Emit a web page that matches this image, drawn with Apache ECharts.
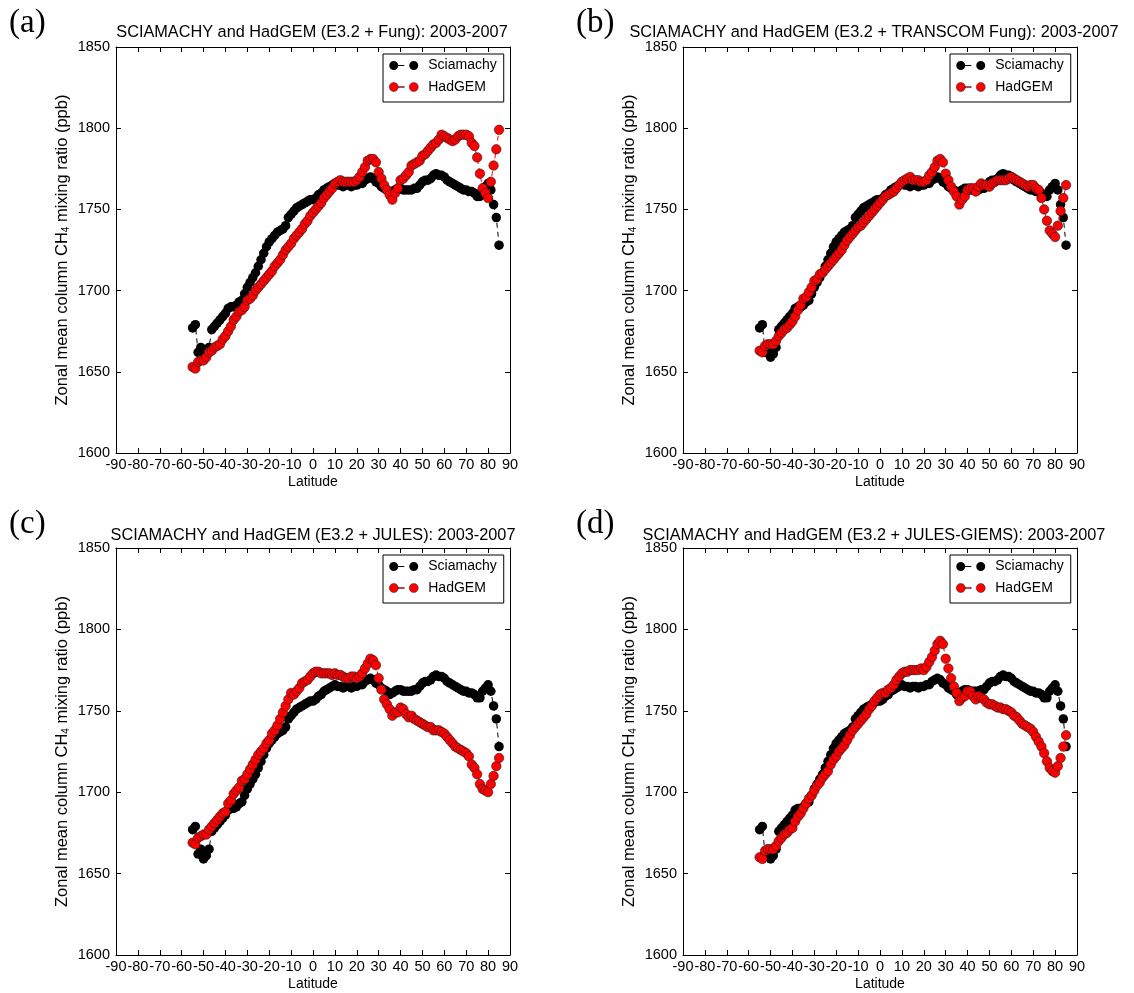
<!DOCTYPE html>
<html>
<head>
<meta charset="utf-8">
<title>Zonal mean column CH4: SCIAMACHY vs HadGEM</title>
<script src="https://cdn.jsdelivr.net/npm/echarts@6/dist/echarts.min.js"></script>
<style>
  html, body { margin: 0; padding: 0; background: #fff; }
  #chart { width: 1134px; height: 993px; }
</style>
</head>
<body>
<div id="chart"></div>
<script>
// Model grid latitudes (degrees)
const latitudes = [
  -55, -53.75, -52.5, -51.25, -50, -48.75, -47.5, -46.25, -45, -43.75,
  -42.5, -41.25, -40, -38.75, -37.5, -36.25, -35, -33.75, -32.5, -31.25,
  -30, -28.75, -27.5, -26.25, -25, -23.75, -22.5, -21.25, -20, -18.75,
  -17.5, -16.25, -15, -13.75, -12.5, -11.25, -10, -8.75, -7.5, -6.25,
  -5, -3.75, -2.5, -1.25, 0, 1.25, 2.5, 3.75, 5, 6.25,
  7.5, 8.75, 10, 11.25, 12.5, 13.75, 15, 16.25, 17.5, 18.75,
  20, 21.25, 22.5, 23.75, 25, 26.25, 27.5, 28.75, 30, 31.25,
  32.5, 33.75, 35, 36.25, 37.5, 38.75, 40, 41.25, 42.5, 43.75,
  45, 46.25, 47.5, 48.75, 50, 51.25, 52.5, 53.75, 55, 56.25,
  57.5, 58.75, 60, 61.25, 62.5, 63.75, 65, 66.25, 67.5, 68.75,
  70, 71.25, 72.5, 73.75, 75, 76.25, 77.5, 78.75, 80, 81.25,
  82.5, 83.75, 85
];

// SCIAMACHY zonal mean column CH4 (ppb), 2003-2007
const sciamachy = [
  1677, 1679, 1662, 1665, 1659, 1661, 1665, 1676, 1678, 1680,
  1682, 1684, 1686, 1689, 1690, 1690, 1691, 1693, 1694, 1698,
  1702, 1705, 1708, 1711, 1715, 1719, 1723, 1727, 1730, 1732,
  1734, 1736, 1737, 1738, 1740, 1745, 1747, 1749, 1751, 1752,
  1753, 1754, 1755, 1756, 1756, 1757, 1759, 1760, 1762, 1763,
  1764, 1765, 1766, 1765, 1765, 1764, 1765, 1765, 1764, 1765,
  1765, 1766, 1766, 1768, 1769, 1770, 1769, 1767, 1766, 1764,
  1763, 1762, 1760, 1761, 1762, 1763, 1763, 1762, 1762, 1762,
  1762, 1763, 1763, 1765, 1767, 1768, 1768, 1769, 1771, 1772,
  1771, 1771, 1770, 1768, 1767, 1766, 1765, 1764, 1763, 1762,
  1762, 1761, 1761, 1760, 1758, 1758, 1762, 1764, 1766, 1762,
  1753, 1745, 1728
];

// HadGEM, E3.2 + Fung wetlands
const hadgemFung = [
  1653, 1652, 1656, 1657, 1657, 1659, 1662, 1663, 1665, 1666,
  1667, 1670, 1672, 1675, 1678, 1682, 1684, 1687, 1688, 1690,
  1694, 1695, 1697, 1700, 1702, 1704, 1706, 1708, 1710, 1712,
  1715, 1717, 1719, 1722, 1725, 1727, 1729, 1732, 1734, 1736,
  1738, 1741, 1743, 1746, 1748, 1750, 1752, 1754, 1757, 1759,
  1761, 1763, 1766, 1767, 1768, 1767, 1767, 1767, 1767, 1767,
  1768, 1770, 1773, 1776, 1780, 1781, 1781, 1779, 1773, 1769,
  1765, 1762, 1759, 1756, 1760, 1763, 1768, 1769, 1771, 1773,
  1777, 1778, 1779, 1780, 1783, 1784, 1786, 1788, 1790, 1791,
  1793, 1796, 1795, 1794, 1793, 1792, 1793, 1795, 1796, 1796,
  1796, 1795, 1791, 1789, 1782, 1772, 1763, 1760, 1757, 1767,
  1777, 1787, 1799
];

// HadGEM, E3.2 + TRANSCOM Fung wetlands
const hadgemTranscom = [
  1663, 1662, 1666, 1667, 1667, 1667, 1669, 1672, 1674, 1676,
  1677, 1679, 1681, 1684, 1688, 1691, 1695, 1696, 1699, 1702,
  1706, 1707, 1710, 1711, 1713, 1715, 1717, 1719, 1721, 1723,
  1725, 1728, 1731, 1733, 1735, 1737, 1739, 1740, 1742, 1744,
  1746, 1748, 1750, 1752, 1754, 1756, 1758, 1759, 1760, 1761,
  1763, 1765, 1767, 1768, 1769, 1770, 1768, 1768, 1768, 1767,
  1767, 1768, 1771, 1773, 1776, 1780, 1781, 1779, 1772, 1768,
  1764, 1761, 1758, 1753, 1756, 1758, 1762, 1763, 1763, 1761,
  1764, 1766, 1765, 1765, 1764, 1766, 1767, 1768, 1768, 1768,
  1768, 1769, 1770, 1769, 1768, 1767, 1766, 1765, 1764, 1765,
  1765, 1763, 1762, 1757, 1750, 1743, 1737, 1735, 1733, 1740,
  1749, 1757, 1765
];

// HadGEM, E3.2 + JULES wetlands
const hadgemJules = [
  1669, 1668, 1672, 1673, 1674, 1674, 1677, 1679, 1681, 1683,
  1685, 1687, 1688, 1693, 1695, 1699, 1701, 1703, 1707, 1708,
  1711, 1714, 1717, 1720, 1723, 1725, 1727, 1730, 1732, 1736,
  1738, 1741, 1745, 1749, 1753, 1757, 1761, 1760, 1762, 1764,
  1767, 1768, 1769, 1771, 1773, 1774, 1774, 1773, 1773, 1773,
  1773, 1772, 1773, 1772, 1772, 1771, 1770, 1770, 1771, 1771,
  1770, 1771, 1773, 1776, 1779, 1782, 1781, 1778, 1770, 1763,
  1757, 1754, 1751, 1747, 1749, 1749, 1752, 1751, 1748, 1746,
  1747, 1745, 1744, 1743, 1742, 1741, 1740, 1740, 1738, 1738,
  1738, 1737, 1736, 1734, 1732, 1730, 1728, 1727, 1726, 1725,
  1724, 1722, 1717, 1715, 1711, 1705, 1702, 1701, 1700, 1705,
  1710, 1716, 1721
];

// HadGEM, E3.2 + JULES-GIEMS wetlands
const hadgemGiems = [
  1660, 1659, 1664, 1665, 1665, 1665, 1667, 1670, 1672, 1674,
  1675, 1677, 1678, 1682, 1685, 1687, 1690, 1693, 1696, 1698,
  1701, 1704, 1706, 1709, 1711, 1713, 1717, 1720, 1722, 1725,
  1727, 1729, 1732, 1735, 1738, 1740, 1742, 1744, 1746, 1748,
  1751, 1753, 1756, 1758, 1760, 1761, 1761, 1763, 1764, 1766,
  1769, 1771, 1773, 1774, 1774, 1775, 1775, 1775, 1775, 1776,
  1775, 1777, 1780, 1783, 1787, 1791, 1793, 1791, 1782, 1776,
  1770, 1765, 1761, 1756, 1758, 1759, 1762, 1762, 1759, 1757,
  1759, 1758, 1757, 1755, 1754, 1754, 1753, 1752, 1752, 1751,
  1751, 1750, 1749, 1747, 1746, 1744, 1742, 1741, 1740, 1739,
  1737, 1734, 1731, 1728, 1724, 1719, 1715, 1713, 1712, 1716,
  1721, 1728, 1735
];

const panelTitles = [
  'SCIAMACHY and HadGEM (E3.2 + Fung): 2003-2007',
  'SCIAMACHY and HadGEM (E3.2 + TRANSCOM Fung): 2003-2007',
  'SCIAMACHY and HadGEM (E3.2 + JULES): 2003-2007',
  'SCIAMACHY and HadGEM (E3.2 + JULES-GIEMS): 2003-2007'
];
const panelLetters = ['(a)', '(b)', '(c)', '(d)'];
const modelRuns = [hadgemFung, hadgemTranscom, hadgemJules, hadgemGiems];

// Axis ranges
const latMin = -90, latMax = 90, latStep = 10;
const ch4Min = 1600, ch4Max = 1850, ch4Step = 50;

const xAxisName = 'Latitude';
const yAxisName = 'Zonal mean column CH{sub|4} mixing ratio (ppb)';
const seriesNames = ['Sciamachy', 'HadGEM'];

// ---- layout ----
const FONT = '"Liberation Sans", Arial, Helvetica, sans-serif';
const SERIF = '"Liberation Serif", "DejaVu Serif", serif';
const panels = [
  { left: 116, top: 47, width: 394, height: 406, titleX: 312, titleY: 33 },
  { left: 683, top: 47, width: 394, height: 406, titleX: 874, titleY: 33 },
  { left: 116, top: 548, width: 394, height: 407, titleX: 313, titleY: 536 },
  { left: 683, top: 548, width: 394, height: 407, titleX: 874, titleY: 536 }
];

function pairs(values) {
  return latitudes.map((lat, i) => [lat, values[i]]);
}

const tickStyle = { show: true, inside: true, length: 5, lineStyle: { color: '#000', width: 1 } };
const lineStyle = { show: true, onZero: false, lineStyle: { color: '#000', width: 1 } };
const labelStyle = { color: '#000', fontSize: 14.5, fontFamily: FONT, formatter: v => String(v) };

const grid = [], xAxis = [], yAxis = [], series = [], legend = [], graphic = [];

// marker, short dash, gap, marker
const legendIcon = 'path://M0,4.5A4.5,4.5,0,1,1,9,4.5A4.5,4.5,0,1,1,0,4.5Z M9,3.9L15,3.9L15,5.1L9,5.1Z M20,4.5A4.5,4.5,0,1,1,29,4.5A4.5,4.5,0,1,1,20,4.5Z';

panels.forEach((p, k) => {
  grid.push({ left: p.left, top: p.top, width: p.width, height: p.height, containLabel: false });

  // bottom and top x axes
  xAxis.push({
    type: 'value', gridIndex: k, position: 'bottom',
    min: latMin, max: latMax, interval: latStep,
    axisLine: lineStyle, axisTick: tickStyle, splitLine: { show: false },
    axisLabel: Object.assign({ margin: 4 }, labelStyle),
    name: xAxisName, nameLocation: 'middle', nameGap: 22,
    nameTextStyle: { color: '#000', fontSize: 14, fontFamily: FONT }
  });
  xAxis.push({
    type: 'value', gridIndex: k, position: 'top',
    min: latMin, max: latMax, interval: latStep,
    axisLine: lineStyle, axisTick: tickStyle, splitLine: { show: false },
    axisLabel: { show: false }
  });

  // left and right y axes
  yAxis.push({
    type: 'value', gridIndex: k, position: 'left',
    min: ch4Min, max: ch4Max, interval: ch4Step,
    axisLine: lineStyle, axisTick: tickStyle, splitLine: { show: false },
    axisLabel: Object.assign({ margin: 6 }, labelStyle),
    name: yAxisName, nameLocation: 'middle', nameGap: 45, nameRotate: 90,
    nameTextStyle: {
      color: '#000', fontSize: 16.5, fontFamily: FONT,
      rich: { sub: { fontSize: 10, verticalAlign: 'bottom', fontFamily: FONT, color: '#000' } }
    }
  });
  yAxis.push({
    type: 'value', gridIndex: k, position: 'right',
    min: ch4Min, max: ch4Max, interval: ch4Step,
    axisLine: lineStyle, axisTick: tickStyle, splitLine: { show: false },
    axisLabel: { show: false }
  });

  series.push({
    name: seriesNames[0], type: 'line',
    xAxisIndex: 2 * k, yAxisIndex: 2 * k,
    data: pairs(sciamachy),
    symbol: 'circle', symbolSize: 9.5, showAllSymbol: true,
    itemStyle: { color: '#000', borderWidth: 0 },
    lineStyle: { color: '#000', width: 1, type: [5, 4] },
    animation: false, z: 2
  });
  series.push({
    name: seriesNames[1], type: 'line',
    xAxisIndex: 2 * k, yAxisIndex: 2 * k,
    data: pairs(modelRuns[k]),
    symbol: 'circle', symbolSize: 9.5, showAllSymbol: true,
    itemStyle: { color: '#ff0000', borderColor: '#222', borderWidth: 0.6 },
    lineStyle: { color: '#ff0000', width: 1, type: [5, 4] },
    animation: false, z: 3
  });

  legend.push({
    left: p.left + p.width - 127, top: p.top + 7,
    orient: 'vertical', itemWidth: 29, itemHeight: 9, itemGap: 5.5,
    padding: [3.5, 7, 7, 6],
    backgroundColor: '#fff', borderColor: '#000', borderWidth: 1, borderRadius: 0,
    icon: legendIcon,
    textStyle: { color: '#000', fontSize: 14, fontFamily: FONT, lineHeight: 16, padding: [0, 0, 0, 5] },
    selectedMode: false,
    data: [
      { name: seriesNames[0], itemStyle: { color: '#000', borderWidth: 0 } },
      { name: seriesNames[1], itemStyle: { color: '#ff0000', borderColor: '#222', borderWidth: 0.5 } }
    ]
  });

  // panel title and letter
  graphic.push({
    type: 'text', x: p.titleX, y: p.titleY,
    style: { text: panelTitles[k], fontSize: 16.3, fontFamily: FONT, fill: '#000', textAlign: 'center', textVerticalAlign: 'middle' },
    silent: true
  });
  graphic.push({
    type: 'text', x: p.left - 107, y: p.top - 24,
    style: { text: panelLetters[k], fontSize: 33, fontFamily: SERIF, fill: '#000', textAlign: 'left', textVerticalAlign: 'middle' },
    silent: true
  });
});

const chart = echarts.init(document.getElementById('chart'), null, { renderer: 'canvas' });
chart.setOption({
  backgroundColor: '#fff',
  animation: false,
  grid, xAxis, yAxis, series, legend, graphic
});
</script>
</body>
</html>
